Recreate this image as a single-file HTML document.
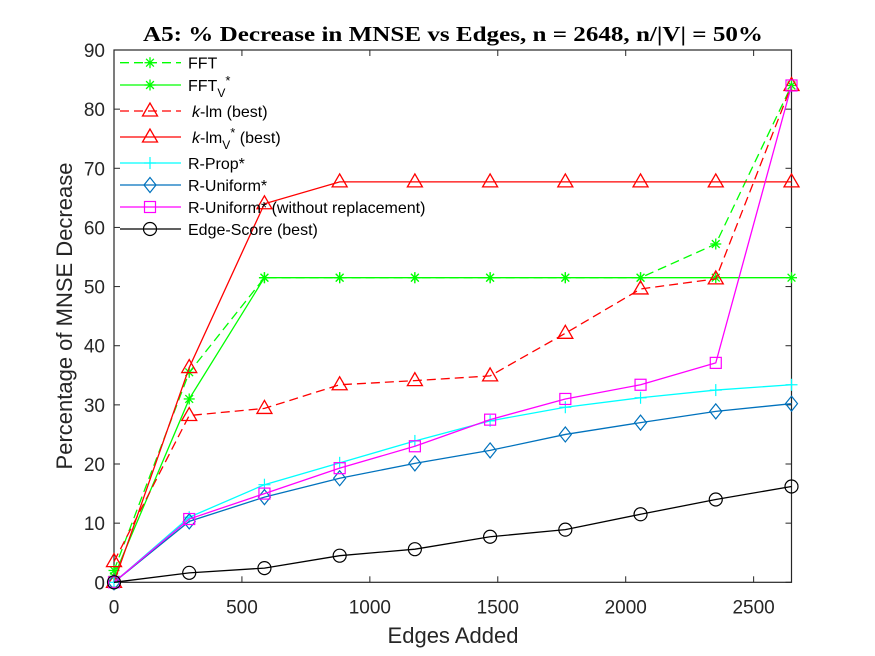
<!DOCTYPE html>
<html><head><meta charset="utf-8"><style>
body{margin:0;background:#fff;}
svg{display:block;font-family:"Liberation Sans",sans-serif;}
</style></head><body>
<svg id="chart" width="875" height="656" xmlns="http://www.w3.org/2000/svg">
<rect width="875" height="656" fill="#fff"/>
<text x="453" y="41" text-anchor="middle" font-family="Liberation Serif,serif" font-weight="bold" font-size="21" textLength="620" lengthAdjust="spacingAndGlyphs" fill="#000">A5: % Decrease in MNSE vs Edges, n = 2648, n/|V| = 50%</text>
<text x="453" y="643" text-anchor="middle" font-size="22" fill="#262626">Edges Added</text>
<text transform="translate(72,316) rotate(-90)" text-anchor="middle" font-size="22" fill="#262626">Percentage of MNSE Decrease</text>
<g id="axes"></g><g id="series"></g><g id="legend"></g>
</svg>
<script>
const xValues=[0,294,588,882,1176,1470,1764,2058,2352,2648];
const xTicks=[0,500,1000,1500,2000,2500];
const yTicks=[0,10,20,30,40,50,60,70,80,90];
const fft=[2,35.5,51.5,51.5,51.5,51.5,51.5,51.5,57.2,84];
const fftV=[1,31,51.5,51.5,51.5,51.5,51.5,51.5,51.5,51.5];
const klm=[3.5,28.2,29.4,33.4,34.1,34.9,42.1,49.6,51.3,84];
const klmV=[0,36.3,64,67.7,67.7,67.7,67.7,67.7,67.7,67.7];
const rprop=[0,11,16.5,20.2,23.9,27.3,29.6,31.2,32.5,33.4];
const runif=[0,10.3,14.4,17.6,20.1,22.3,25,27,28.9,30.2];
const runifWo=[0,10.7,15,19.3,23,27.5,31,33.4,37.1,84];
const edge=[0,1.6,2.4,4.5,5.6,7.7,8.9,11.5,14,16.2];
const seriesNames=["FFT","FFT_V*","k-lm (best)","k-lm_V* (best)","R-Prop*","R-Uniform*","R-Uniform* (without replacement)","Edge-Score (best)"];

const L=114,R=791.5,T=50,B=582.3,XMAX=2648,YMAX=90;
const sx=v=>L+v/XMAX*(R-L), sy=v=>B-v/YMAX*(B-T);
const NS="http://www.w3.org/2000/svg";
function mk(tag,attrs,parent){const e=document.createElementNS(NS,tag);for(const k in attrs)e.setAttribute(k,attrs[k]);parent.appendChild(e);return e;}
const axes=document.getElementById('axes'),ser=document.getElementById('series'),leg=document.getElementById('legend');
const frame=mk('rect',{x:L,y:T,width:R-L,height:B-T,fill:'none',stroke:'#262626','stroke-width':1.2},axes);


xTicks.forEach(t=>{const x=sx(t);
 mk('line',{x1:x,x2:x,y1:B,y2:B-6,stroke:'#262626'},axes);
 mk('line',{x1:x,x2:x,y1:T,y2:T+6,stroke:'#262626'},axes);
 const tx=mk('text',{x:x,y:B+31,'text-anchor':'middle','font-size':19,fill:'#262626'},axes);tx.textContent=t;
 
 });
yTicks.forEach(t=>{const y=sy(t);
 mk('line',{x1:L,x2:L+6,y1:y,y2:y,stroke:'#262626'},axes);
 mk('line',{x1:R,x2:R-6,y1:y,y2:y,stroke:'#262626'},axes);
 const tx=mk('text',{x:L-9,y:y+7,'text-anchor':'end','font-size':19,fill:'#262626'},axes);tx.textContent=t;
 
 });

function marker(g,type,x,y,c){
 if(type==='star'){const r=5.5;for(let a=0;a<4;a++){const an=a*Math.PI/4;mk('line',{x1:x-r*Math.cos(an),y1:y-r*Math.sin(an),x2:x+r*Math.cos(an),y2:y+r*Math.sin(an),stroke:c,'stroke-width':1.3},g);}}
 else if(type==='tri'){mk('polygon',{points:`${x},${y-8} ${x-7.5},${y+5} ${x+7.5},${y+5}`,fill:'none',stroke:c,'stroke-width':1.3},g);}
 else if(type==='plus'){mk('line',{x1:x-6,x2:x+6,y1:y,y2:y,stroke:c,'stroke-width':1.2},g);mk('line',{x1:x,x2:x,y1:y-6,y2:y+6,stroke:c,'stroke-width':1.2},g);}
 else if(type==='dia'){mk('polygon',{points:`${x},${y-7.5} ${x+6},${y} ${x},${y+7.5} ${x-6},${y}`,fill:'none',stroke:c,'stroke-width':1.2},g);}
 else if(type==='sq'){mk('rect',{x:x-5.5,y:y-5.5,width:11,height:11,fill:'none',stroke:c,'stroke-width':1.2},g);}
 else if(type==='circ'){mk('circle',{cx:x,cy:y,r:6.5,fill:'none',stroke:c,'stroke-width':1.2},g);}
}
const specs=[
 [fft,'#00ff00',true,'star','series-fft'],
 [fftV,'#00ff00',false,'star','series-fft-v'],
 [klm,'#ff0000',true,'tri','series-klm'],
 [klmV,'#ff0000',false,'tri','series-klm-v'],
 [rprop,'#00ffff',false,'plus','series-r-prop'],
 [runif,'#0072bd',false,'dia','series-r-uniform'],
 [runifWo,'#ff00ff',false,'sq','series-r-uniform-wo'],
 [edge,'#000000',false,'circ','series-edge-score']];
specs.forEach(([d,c,dash,m,name])=>{
 const g=mk('g',{},ser);
 
 
 const pts=d.map((v,i)=>sx(xValues[i])+','+sy(v)).join(' ');
 const a={points:pts,fill:'none',stroke:c,'stroke-width':1.3};if(dash)a['stroke-dasharray']='9,5';
 mk('polyline',a,g);
 d.forEach((v,i)=>marker(g,m,sx(xValues[i]),sy(v),c));
});
const rows=[62.7,85,111,137,163,185,207,229];
specs.forEach(([d,c,dash,m,name],i)=>{
 const g=mk('g',{},leg);
 
 
 const y=rows[i];
 const a={x1:120,x2:181,y1:y,y2:y,stroke:c,'stroke-width':1.3};if(dash)a['stroke-dasharray']='9,5';
 mk('line',a,g);marker(g,m,150,y,c);
 const t=mk('text',{x:188,y:y+6,'font-size':16,fill:'#000'},g);
 const lbl=[["FFT"],["FFT",["V","sub"],["*","sup"]],[["k","i"],"-lm (best)"],[["k","i"],"-lm",["V","sub"],["*","sup"]," (best)"],["R-Prop*"],["R-Uniform*"],["R-Uniform* (without replacement)"],["Edge-Score (best)"]][i];
 lbl.forEach(p=>{const s=document.createElementNS(NS,'tspan');
  if(typeof p==='string'){s.textContent=p;if(t.childNodes.length&&t.lastChild.getAttribute('data-sh')){s.setAttribute('dy',t.lastChild.getAttribute('data-sh')*-1);}}
  else{s.textContent=p[0];if(p[1]==='i'){s.setAttribute('font-style','italic');if(p[0]==='k')s.setAttribute('dx','4');}
   else if(p[1]==='sub'){s.setAttribute('dy','6');s.setAttribute('font-size','12');s.setAttribute('data-sh','6');}
   else if(p[1]==='sup'){const prev=t.lastChild&&t.lastChild.getAttribute('data-sh')?-12:-6;s.setAttribute('dy',prev);s.setAttribute('font-size','13');s.setAttribute('data-sh','-6');}}
  t.appendChild(s);});
});
</script>
</body></html>
